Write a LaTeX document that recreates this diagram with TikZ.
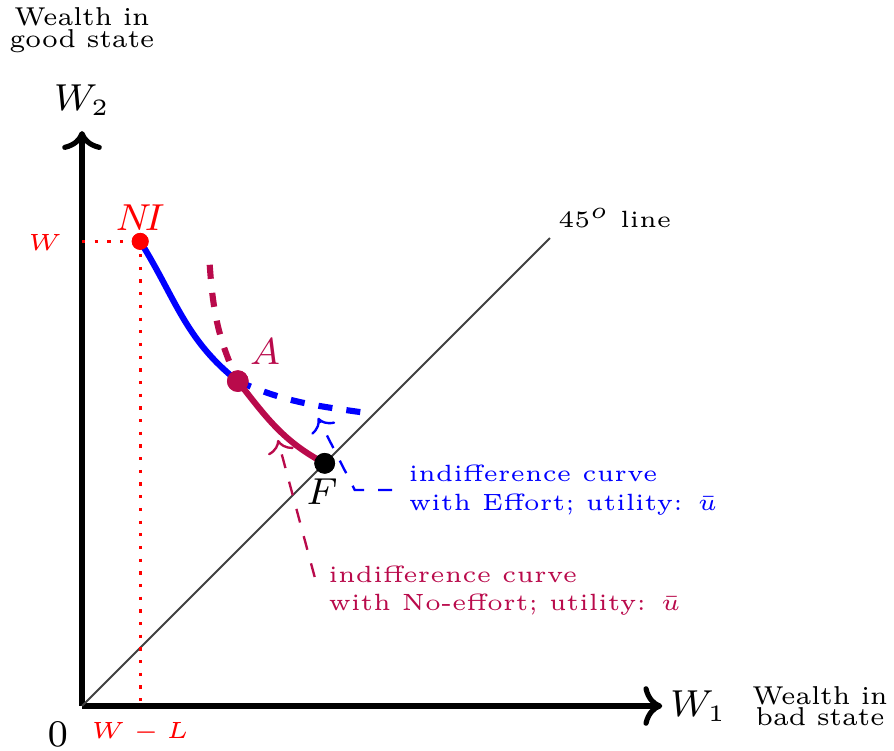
\documentclass[tikz,border=0pt]{standalone}
\usepackage{amsmath}
\usepackage{amssymb}
\usepackage{xcolor}
\usepackage{tikz}
\usetikzlibrary{positioning,arrows.meta}

\definecolor{noeffort}{RGB}{185,10,75}

\begin{document}
\begin{tikzpicture}[
    x=0.5cm, y=0.5cm,
    axis/.style={
        ->,
        line width=1.1pt
    },
    curve/.style={
        line width=1.3pt
    },
    guide/.style={
        red,
        dotted,
        line width=0.7pt
    },
    pointer/.style={
        ->,
        dashed,
        line width=0.5pt
    },
    dot/.style={
        circle,
        fill,
        inner sep=0pt,
        minimum size=#1
    },
    lbl/.style={
        font=\tiny,
        align=left
    },
    axlbl/.style={
        font=\fontsize{5.5}{4.6}\selectfont,
        align=center
    },
    mlbl/.style={
        font=\fontsize{7.6}{9}\selectfont
    }
]

\useasboundingbox (-1.227,-0.673) rectangle (12.146,10.561);

% axes
\coordinate (origin) at (0,0);
\coordinate (xend) at (8.68,0);
\coordinate (yend) at (0,8.6);

\draw[axis] (origin) -- (xend);

\draw[axis] (origin) -- (yend);

\node[mlbl] (w1) at (9.22,0) {$W_1$};

\node[axlbl] (badstate) at (11.04,0) {Wealth in\\bad state};

\node[mlbl] (w2) at (0,9.06) {$W_2$};

\node[axlbl] (goodstate) at (0,10.11) {Wealth in\\good state};

\node[mlbl] (zero) at (-0.36,-0.43) {$0$};

% 45 degree line
\coordinate (diagend) at (7,7);

\draw[black!75] (origin) -- (diagend);

\node[font=\tiny] (diaglbl) at (7.97,7.3) {$45^o$ line};

% points
\node[dot=3.6pt, red] (ni) at (0.87,6.95) {};

\node[dot=4.6pt, noeffort] (a) at (2.33,4.86) {};

\node[dot=4.4pt, black] (f) at (3.63,3.63) {};

\node[mlbl, red] (nilbl) at (0.87,7.3) {$N\!I$};

\node[mlbl, noeffort] (albl) at (2.74,5.3) {$A$};

\node[mlbl] (flbl) at (3.59,3.2) {$F$};

% dotted guides
\coordinate (wtick) at (0,6.95);
\coordinate (wltick) at (0.87,0);

\draw[guide] (wtick) -- (ni.center);

\draw[guide] (ni.center) -- (wltick);

\node[font=\tiny, red] (wlbl) at (-0.55,6.94) {$W$};

\node[font=\tiny, red] (wllbl) at (0.87,-0.4) {$W-L$};

% indifference curves
\coordinate (effend) at (4.28,4.38);
\coordinate (noeffstart) at (1.91,6.6);

\draw[curve, noeffort, dashed] (noeffstart) to[out=-86, in=115] (a.center);

\draw[curve, blue] (ni.center) to[out=-58, in=142] (a.center);

\draw[curve, blue, dashed] (a.center) to[out=-24, in=172] (effend);

\draw[curve, noeffort] (a.center) to[out=-52, in=152] (f.center);

\node[dot=3.6pt, red] at (ni) {};

\node[dot=4.6pt, noeffort] at (a) {};

\node[dot=4.4pt, black] at (f) {};

% curve labels
\node[lbl, blue, anchor=west] (efflbl) at (4.64,3.23) {indifference curve\\with Effort; utility: $\bar{u}$};

\node[lbl, noeffort, anchor=west] (noefflbl) at (3.44,1.72) {indifference curve\\with No-effort; utility: $\bar{u}$};

\coordinate (effbend) at (4.08,3.23);
\coordinate (efftip) at (3.53,4.31);
\coordinate (noefffoot) at (3.48,1.93);
\coordinate (noefftip) at (2.93,3.98);

\draw[pointer, blue] (efflbl.west) -- (effbend) -- (efftip);

\draw[pointer, noeffort] (noefffoot) -- (noefftip);

\end{tikzpicture}
\end{document}
